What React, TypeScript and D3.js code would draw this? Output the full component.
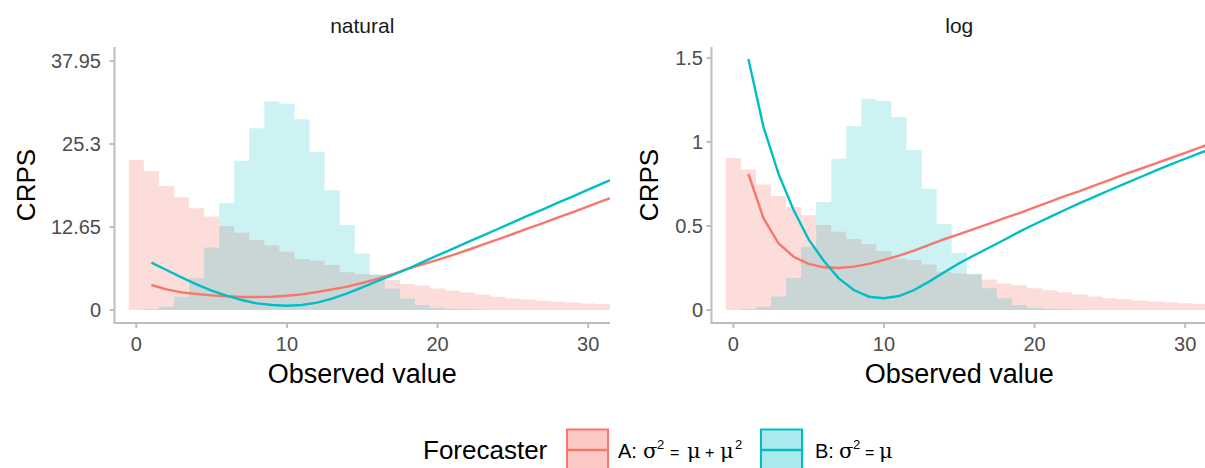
import React from 'react';
import * as d3 from 'd3';

const W = 1205;
const H = 468;

// observed values where the CRPS curves are evaluated
const obsX = d3.range(1, 33);

// CRPS curves, natural scale
const natA = [3.81, 3.15, 2.69, 2.44, 2.23, 2.09, 1.98, 1.98, 2.03, 2.18, 2.39, 2.74, 3.15, 3.56, 4.12, 4.76, 5.45, 6.28, 6.95, 7.64, 8.38, 9.15, 9.96, 10.77, 11.59, 12.45, 13.26, 14.13, 14.94, 15.8, 16.66, 17.5];
const natB = [7.22, 6.1, 4.98, 3.91, 2.95, 2.18, 1.52, 1.01, 0.76, 0.66, 0.76, 1.12, 1.73, 2.54, 3.45, 4.42, 5.3, 6.25, 7.3, 8.33, 9.32, 10.35, 11.33, 12.35, 13.36, 14.38, 15.35, 16.36, 17.33, 18.34, 19.36, 20.3];

// CRPS curves, log scale
const logA = [0.81, 0.546, 0.397, 0.317, 0.274, 0.254, 0.25, 0.258, 0.274, 0.298, 0.323, 0.353, 0.387, 0.421, 0.452, 0.483, 0.514, 0.546, 0.577, 0.611, 0.643, 0.677, 0.708, 0.742, 0.774, 0.808, 0.839, 0.871, 0.903, 0.935, 0.968, 1.0];
const logB = [1.494, 1.09, 0.81, 0.595, 0.42, 0.293, 0.188, 0.119, 0.079, 0.07, 0.083, 0.119, 0.169, 0.224, 0.278, 0.326, 0.372, 0.418, 0.466, 0.51, 0.553, 0.595, 0.636, 0.675, 0.714, 0.752, 0.79, 0.828, 0.865, 0.9, 0.935, 0.968];

// predictive distributions (bins centred on 0, 1, 2, ...), in log-panel units
const histA = [0.904, 0.836, 0.747, 0.679, 0.613, 0.564, 0.506, 0.466, 0.422, 0.391, 0.351, 0.307, 0.297, 0.271, 0.227, 0.217, 0.211, 0.181, 0.157, 0.147, 0.13, 0.117, 0.106, 0.092, 0.08, 0.07, 0.064, 0.056, 0.05, 0.046, 0.04, 0.036];
const histB = [0, 0.004, 0.02, 0.08, 0.191, 0.377, 0.643, 0.9, 1.095, 1.257, 1.243, 1.149, 0.952, 0.721, 0.512, 0.341, 0.215, 0.13, 0.07, 0.03, 0.014, 0.008, 0.004, 0.002, 0, 0, 0, 0, 0, 0, 0, 0];
const natFactor = 25.3;

const xTicks = [0, 10, 20, 30];
const natTicks = [0, 12.65, 25.3, 37.95];
const natLabels = ['0', '12.65', '25.3', '37.95'];
const logTicks = [0, 0.5, 1, 1.5];
const logLabels = ['0', '0.5', '1', '1.5'];

const colA = '#F8766D';
const colB = '#00BFC4';
const axisCol = '#bebebe';
const font = 'Liberation Sans, Arial, Helvetica, sans-serif';
const serif = 'DejaVu Serif, Liberation Serif, serif';

const top = 47;
const bottom = 323;

function Panel({ id, left, right, yDomain, ticks, labels, factor, lineA, lineB, title, labelEnd }) {
  const x = d3.scaleLinear().domain([-1.45, 31.45]).range([left, right]);
  const y = d3.scaleLinear().domain(yDomain).range([bottom, top]);

  const stepPts = (h) => h.map((v, i) => [i - 0.5, v * factor]).concat([[h.length - 0.5, h[h.length - 1] * factor]]);
  const area = d3.area()
    .x(d => x(d[0]))
    .y0(y(0))
    .y1(d => y(d[1]))
    .curve(d3.curveStepAfter);
  const line = d3.line()
    .x((d, i) => x(obsX[i]))
    .y(d => y(d));

  const cx = (left + right) / 2;
  return (
    <g>
      <defs>
        <clipPath id={id}>
          <rect x={left} y={top} width={right - left} height={bottom - top} />
        </clipPath>
      </defs>
      <text x={cx} y={33} textAnchor="middle" fontSize={21} fill="#1a1a1a">{title}</text>
      <g clipPath={`url(#${id})`}>
        <path d={area(stepPts(histA))} fill={colA} fillOpacity={0.25} />
        <path d={area(stepPts(histB))} fill={colB} fillOpacity={0.2} />
        <path d={line(lineA)} fill="none" stroke={colA} strokeWidth={2.4} />
        <path d={line(lineB)} fill="none" stroke={colB} strokeWidth={2.4} />
      </g>
      {/* axes */}
      <line x1={left} x2={left} y1={top} y2={bottom + 1} stroke={axisCol} strokeWidth={2} />
      <line x1={left - 1} x2={right} y1={bottom} y2={bottom} stroke={axisCol} strokeWidth={2} />
      {ticks.map((t, i) => (
        <g key={t}>
          <line x1={left - 5} x2={left} y1={y(t)} y2={y(t)} stroke={axisCol} strokeWidth={2} />
          <text x={labelEnd} y={y(t)} dy="0.36em" textAnchor="end" fontSize={20} fill="#4d4d4d">{labels[i]}</text>
        </g>
      ))}
      {xTicks.map(t => (
        <g key={t}>
          <line x1={x(t)} x2={x(t)} y1={bottom} y2={bottom + 5} stroke={axisCol} strokeWidth={2} />
          <text x={x(t)} y={351} textAnchor="middle" fontSize={20} fill="#4d4d4d">{t}</text>
        </g>
      ))}
      <text x={cx} y={383} textAnchor="middle" fontSize={27} fill="#000">Observed value</text>
    </g>
  );
}

export default function App() {
  const by = 458;
  return (
    <svg width={W} height={H} style={{ position: 'absolute', left: 0, top: 0, background: '#fff' }} fontFamily={font}>
      <Panel id="clipNat" left={114.5} right={610} yDomain={[-1.98, 40.1]} ticks={natTicks} labels={natLabels}
        factor={natFactor} lineA={natA} lineB={natB} title="natural" labelEnd={101} />
      <Panel id="clipLog" left={711.5} right={1207} yDomain={[-0.0774, 1.565]} ticks={logTicks} labels={logLabels}
        factor={1} lineA={logA} lineB={logB} title="log" labelEnd={703} />

      <text transform="translate(35,185) rotate(-90)" textAnchor="middle" fontSize={26} fill="#000">CRPS</text>
      <text transform="translate(658,185) rotate(-90)" textAnchor="middle" fontSize={26} fill="#000">CRPS</text>

      {/* legend */}
      <text x={423} y={459} fontSize={26} fill="#000">Forecaster</text>
      <rect x={567} y={429.5} width={41} height={41} fill={colA} fillOpacity={0.4} stroke={colA} strokeWidth={2} />
      <line x1={567} x2={608} y1={450} y2={450} stroke={colA} strokeWidth={2.4} />
      <text fontSize={20} fill="#000">
        <tspan x={618} y={by}>A:</tspan>
        <tspan x={643} y={by} fontFamily={serif} fontSize={21}>σ</tspan>
        <tspan x={657} y={by - 9} fontSize={13}>2</tspan>
        <tspan x={670} y={by} fontSize={16}>=</tspan>
        <tspan x={687} y={by} fontFamily={serif} fontSize={21}>μ</tspan>
        <tspan x={705} y={by} fontSize={16}>+</tspan>
        <tspan x={720} y={by} fontFamily={serif} fontSize={21}>μ</tspan>
        <tspan x={735} y={by - 9} fontSize={13}>2</tspan>
      </text>
      <rect x={761} y={429.5} width={41} height={41} fill={colB} fillOpacity={0.33} stroke={colB} strokeWidth={2} />
      <line x1={761} x2={802} y1={450} y2={450} stroke={colB} strokeWidth={2.4} />
      <text fontSize={20} fill="#000">
        <tspan x={815} y={by}>B:</tspan>
        <tspan x={839} y={by} fontFamily={serif} fontSize={21}>σ</tspan>
        <tspan x={853} y={by - 9} fontSize={13}>2</tspan>
        <tspan x={865} y={by} fontSize={16}>=</tspan>
        <tspan x={879} y={by} fontFamily={serif} fontSize={21}>μ</tspan>
      </text>
    </svg>
  );
}
